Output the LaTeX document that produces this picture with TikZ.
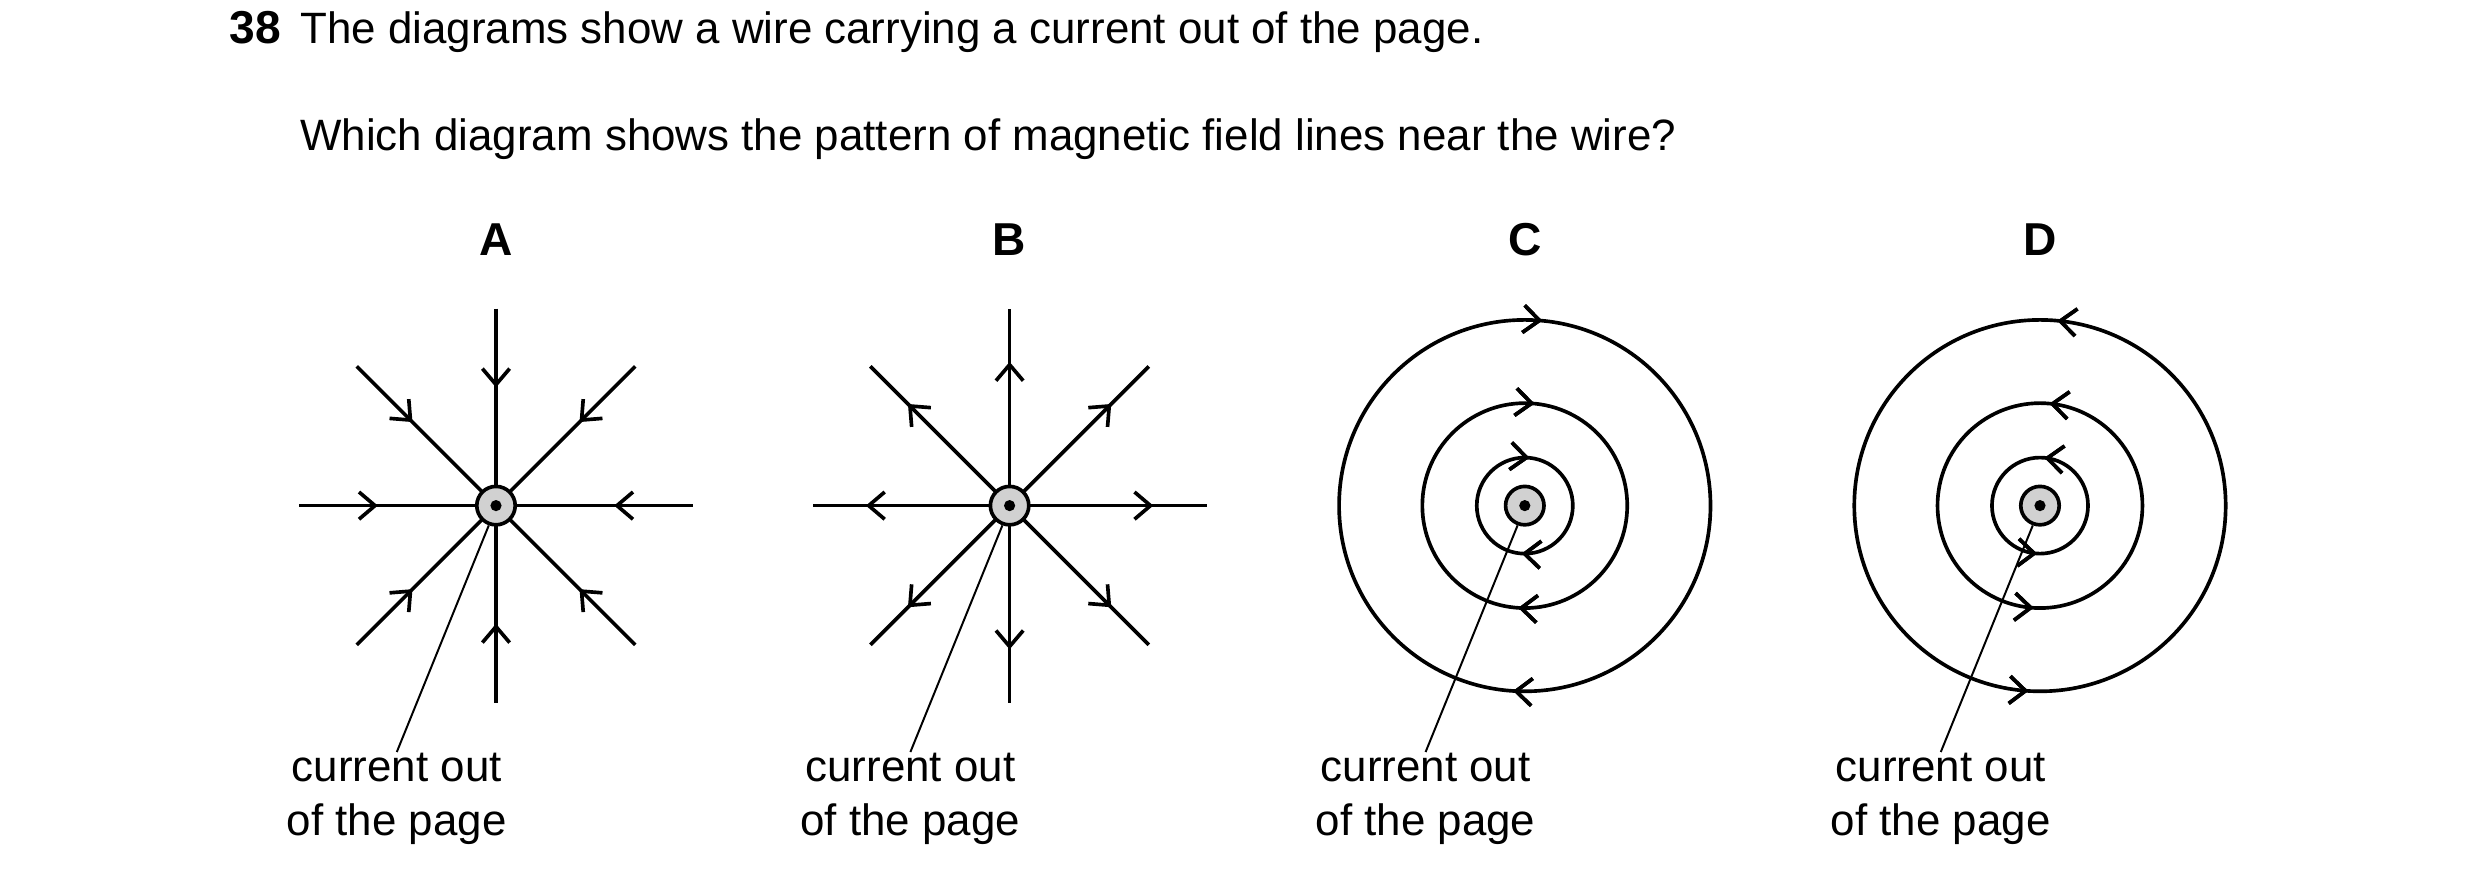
\documentclass[tikz,border=0pt]{standalone}
\usepackage{fontspec}
\setmainfont{Liberation Sans}
\usetikzlibrary{arrows.meta,decorations.markings,calc}
\newcommand{\wirer}{0.12cm}
\tikzset{
  fld/.style={line width=0.65pt},
  barb/.style={decoration={markings,
      mark=at position #1 with {\arrow{Straight Barb[length=1mm,width=1.7mm,line width=0.65pt]}}},
    postaction={decorate}},
  rbarb/.style={decoration={markings,
      mark=at position #1 with {\arrowreversed{Straight Barb[length=1mm,width=1.7mm,line width=0.65pt]}}},
    postaction={decorate}},
  wire/.style={circle, draw, line width=0.65pt, fill=black!18, minimum size=0.24cm, inner sep=0pt},
  tag/.style={align=center, font=\fontsize{7.8}{9.6}\selectfont, inner sep=0pt},
  letter/.style={font=\fontsize{8.2}{10}\selectfont\bfseries}
}
\begin{document}
\begin{tikzpicture}[x=0.01cm,y=-0.01cm]
  \useasboundingbox (0,0) rectangle (1550,554);
  % question
  \node[anchor=base west, letter] (num) at (131,27) {38};
  \node[anchor=base west, tag] (q1) at (187,27) {The diagrams show a wire carrying a current out of the page.};
  \node[anchor=base west, tag] (q2) at (187,94) {Which diagram shows the pattern of magnetic field lines near the wire?};
  % A and B: radial lines
  \foreach \name/\cx/\inward in {A/310/1, B/631/0} {
    \node[letter] (lab\name) at (\cx,150) {\name};
    \coordinate (c\name) at (\cx,316);
    \foreach \ang in {0,45,...,315} {
      \coordinate (e\name\ang) at ($(c\name)+(\ang:1.23cm)$);
      \ifnum\inward=1
        \draw[fld, barb=0.4] (e\name\ang) -- (c\name);
      \else
        \draw[fld, barb=0.73] (c\name) -- (e\name\ang);
      \fi
    }
  }
  % C and D: circles
  \foreach \name/\cx/\dir in {C/953/rbarb, D/1275/barb} {
    \node[letter] (lab\name) at (\cx,150) {\name};
    \coordinate (c\name) at (\cx,316);
    \foreach \r in {1.16cm,0.64cm,0.30cm}
      \draw[fld, \dir=0.235, \dir=0.74] (c\name) ++(\r,0) arc (0:360:\r);
  }
  % wires and labels
  \foreach \name/\cx in {A/310, B/631, C/953, D/1275} {
    \node[wire] (w\name) at (c\name) {};
    \fill (w\name) circle (0.035cm);
    \node[tag, anchor=north] (t\name) at (\cx-62,470) {current out\\of the page};
    \draw[line width=0.35pt] (w\name.250) -- (t\name.north);
  }
\end{tikzpicture}
\end{document}
